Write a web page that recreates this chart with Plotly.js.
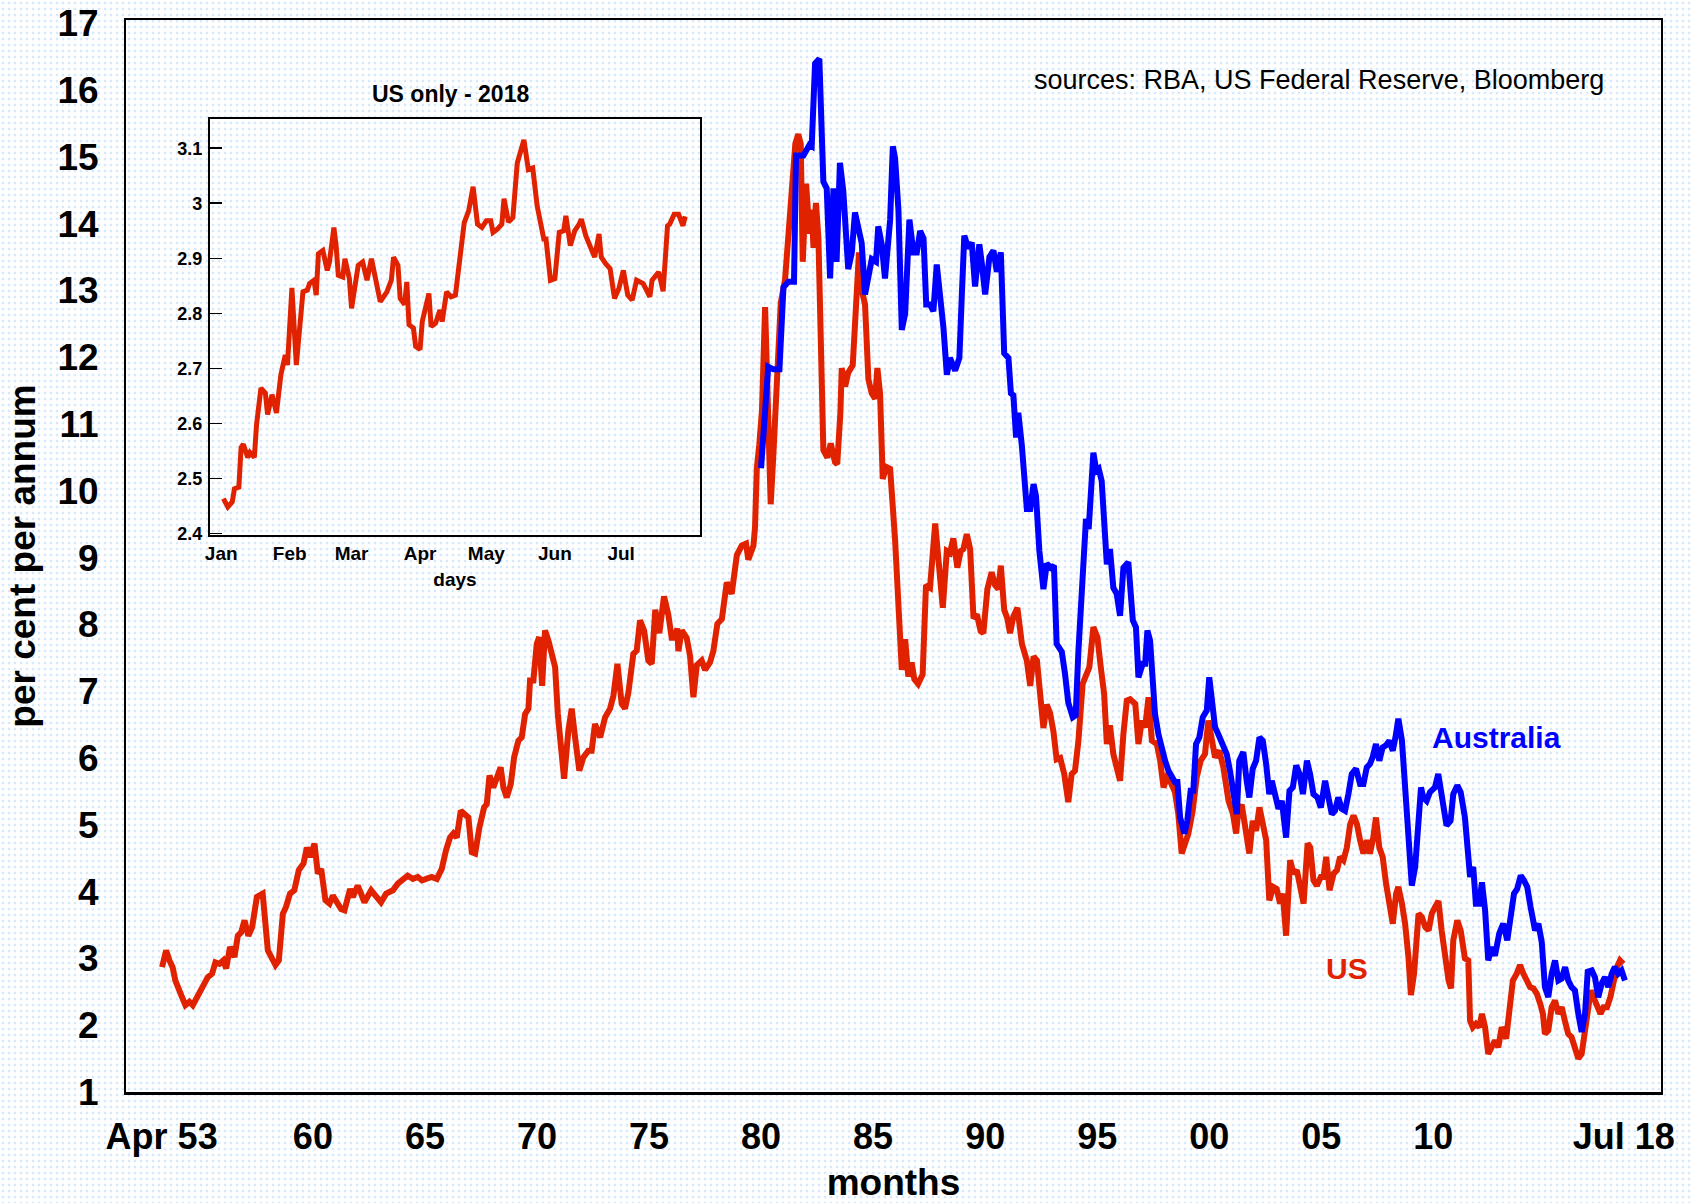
<!DOCTYPE html>
<html>
<head>
<meta charset="utf-8">
<script src="https://cdn.plot.ly/plotly-3.0.1.min.js"></script>
<style>
  html, body { margin: 0; padding: 0; }
  body {
    width: 1691px; height: 1203px; overflow: hidden;
    background-color: #ffffff;
    background-image: radial-gradient(circle, #d6eafb 1.2px, rgba(255,255,255,0) 1.7px);
    background-size: 6px 6px;
  }
  #chart { width: 1691px; height: 1203px; }
</style>
</head>
<body>
<div id="chart"></div>
<script>
// ---------- main chart: US 10-year bond yield (monthly) ----------
const usYears = [1953.27,1953.45,1953.6,1953.74,1953.86,1954.0,1954.16,1954.31,1954.49,1954.64,1954.86,1955.09,1955.31,1955.5,1955.65,1955.83,1956.0,1956.13,1956.3,1956.5,1956.65,1956.8,1956.95,1957.12,1957.29,1957.5,1957.76,1957.99,1958.13,1958.33,1958.48,1958.66,1958.8,1958.98,1959.17,1959.37,1959.58,1959.73,1959.88,1960.07,1960.22,1960.37,1960.56,1960.74,1960.89,1961.07,1961.26,1961.41,1961.51,1961.66,1961.78,1962.0,1962.15,1962.3,1962.6,1962.82,1963.04,1963.27,1963.57,1963.79,1964.01,1964.23,1964.46,1964.68,1964.87,1965.05,1965.3,1965.53,1965.75,1965.94,1966.12,1966.27,1966.42,1966.6,1966.79,1966.94,1967.09,1967.24,1967.43,1967.64,1967.76,1967.88,1968.05,1968.21,1968.38,1968.5,1968.65,1968.83,1968.98,1969.17,1969.32,1969.47,1969.62,1969.69,1969.84,1969.99,1970.1,1970.23,1970.36,1970.51,1970.66,1970.81,1970.93,1971.06,1971.21,1971.4,1971.55,1971.7,1971.89,1972.07,1972.29,1972.44,1972.59,1972.82,1973.04,1973.26,1973.41,1973.59,1973.78,1973.93,1974.08,1974.3,1974.45,1974.6,1974.78,1974.97,1975.12,1975.28,1975.46,1975.67,1975.86,1976.01,1976.16,1976.26,1976.31,1976.46,1976.68,1976.83,1976.98,1977.13,1977.35,1977.5,1977.72,1977.87,1978.05,1978.25,1978.47,1978.69,1978.92,1979.14,1979.33,1979.43,1979.66,1979.73,1979.81,1979.92,1980.04,1980.18,1980.25,1980.43,1980.55,1980.73,1980.88,1981.07,1981.3,1981.53,1981.66,1981.77,1981.86,1982.01,1982.16,1982.26,1982.34,1982.45,1982.56,1982.71,1982.78,1982.96,1983.11,1983.3,1983.4,1983.54,1983.6,1983.75,1983.89,1984.09,1984.19,1984.37,1984.49,1984.64,1984.79,1984.94,1985.09,1985.19,1985.31,1985.43,1985.58,1985.76,1985.98,1986.13,1986.28,1986.43,1986.57,1986.72,1986.84,1987.01,1987.21,1987.36,1987.54,1987.77,1987.91,1988.11,1988.29,1988.43,1988.58,1988.76,1988.91,1989.03,1989.18,1989.33,1989.48,1989.63,1989.8,1989.92,1990.1,1990.29,1990.44,1990.59,1990.7,1990.85,1990.99,1991.11,1991.26,1991.44,1991.64,1991.86,1992.01,1992.16,1992.31,1992.46,1992.6,1992.75,1992.9,1993.05,1993.19,1993.35,1993.53,1993.71,1993.86,1994.01,1994.16,1994.35,1994.53,1994.65,1994.83,1995.01,1995.16,1995.31,1995.43,1995.57,1995.72,1995.87,1996.02,1996.17,1996.32,1996.47,1996.7,1996.84,1996.99,1997.14,1997.29,1997.44,1997.66,1997.81,1997.96,1998.11,1998.25,1998.47,1998.62,1998.77,1998.92,1999.07,1999.26,1999.44,1999.62,1999.81,1999.96,2000.11,2000.26,2000.45,2000.63,2000.86,2001.06,2001.2,2001.3,2001.45,2001.6,2001.79,2001.94,2002.09,2002.24,2002.39,2002.54,2002.68,2002.86,2003.01,2003.16,2003.28,2003.43,2003.61,2003.76,2003.91,2004.03,2004.21,2004.39,2004.51,2004.65,2004.8,2004.98,2005.1,2005.22,2005.37,2005.55,2005.7,2005.84,2005.99,2006.14,2006.29,2006.44,2006.59,2006.73,2006.88,2007.03,2007.17,2007.32,2007.44,2007.59,2007.74,2007.89,2008.04,2008.19,2008.34,2008.44,2008.6,2008.74,2008.89,2009.0,2009.14,2009.34,2009.49,2009.64,2009.79,2009.93,2010.08,2010.23,2010.37,2010.53,2010.68,2010.79,2010.89,2011.07,2011.22,2011.41,2011.56,2011.64,2011.76,2011.9,2012.05,2012.17,2012.31,2012.45,2012.6,2012.75,2012.9,2013.05,2013.25,2013.4,2013.55,2013.72,2013.87,2014.02,2014.17,2014.32,2014.47,2014.62,2014.77,2014.89,2014.98,2015.13,2015.28,2015.43,2015.58,2015.73,2015.88,2016.02,2016.17,2016.32,2016.47,2016.62,2016.77,2016.92,2017.02,2017.16,2017.31,2017.46,2017.6,2017.75,2017.9,2018.04,2018.19,2018.33,2018.48];
const usYield = [2.87,3.12,2.97,2.87,2.67,2.52,2.42,2.30,2.35,2.30,2.45,2.60,2.72,2.77,2.94,2.92,2.97,2.85,3.17,3.02,3.34,3.39,3.57,3.34,3.47,3.92,3.97,3.12,3.02,2.90,2.97,3.67,3.77,3.97,4.02,4.32,4.42,4.66,4.52,4.72,4.27,4.34,3.87,3.82,3.94,3.82,3.74,3.72,3.89,4.04,3.92,4.09,3.97,3.84,4.02,3.94,3.84,3.97,4.02,4.12,4.17,4.24,4.19,4.22,4.17,4.19,4.22,4.19,4.34,4.62,4.81,4.87,4.81,5.21,5.16,5.11,4.59,4.57,4.96,5.26,5.31,5.74,5.56,5.69,5.86,5.56,5.41,5.61,6.01,6.26,6.31,6.66,6.74,7.16,7.16,7.71,7.81,7.08,7.91,7.76,7.51,7.36,6.66,6.16,5.69,6.41,6.74,6.31,5.81,6.01,6.11,6.11,6.51,6.31,6.61,6.74,6.93,7.41,6.81,6.74,6.98,7.56,7.61,8.06,7.91,7.46,7.41,8.22,7.87,8.42,8.15,7.80,7.80,7.94,7.60,7.91,7.80,7.53,6.91,7.39,7.46,7.32,7.43,7.60,8.01,8.08,8.63,8.46,9.04,9.18,9.21,8.97,9.18,9.45,10.34,10.69,11.2,12.75,11.92,9.80,10.55,11.92,12.82,13.16,14.13,15.20,15.34,15.20,13.43,14.6,13.85,14.21,13.64,14.31,13.78,12.09,10.61,10.50,10.71,10.43,10.40,11.17,11.84,11.56,11.77,11.88,12.51,13.57,13.01,12.79,11.67,11.46,11.38,11.84,11.46,10.18,10.36,10.33,9.27,8.21,7.32,7.78,7.22,7.43,7.18,7.11,7.25,8.59,8.55,9.51,9.03,8.25,9.10,9.07,9.29,8.85,9.10,9.13,9.35,9.13,8.09,8.15,7.90,7.87,8.53,8.78,8.59,8.53,8.88,8.22,8.09,7.87,8.12,8.25,7.71,7.46,7.08,7.52,7.46,6.99,6.45,6.80,6.67,6.39,5.98,6.0,5.76,5.34,5.76,5.81,6.25,7.11,7.26,7.36,7.96,7.81,7.36,6.96,6.21,6.49,6.06,5.81,5.66,6.36,6.86,6.88,6.81,6.21,6.56,6.46,6.91,6.26,6.21,5.96,5.56,5.71,5.66,5.49,5.16,4.57,4.72,4.87,5.21,5.71,5.96,6.06,6.56,6.21,6.01,6.11,5.86,5.36,5.16,4.87,5.21,5.30,4.9,4.57,5.06,4.91,5.26,5.06,4.77,3.87,4.07,4.04,3.82,3.97,3.34,4.47,4.27,4.32,4.12,3.82,4.72,4.66,4.17,4.09,4.22,4.22,4.52,4.02,4.27,4.32,4.52,4.47,4.66,5.01,5.14,5.01,4.77,4.57,4.77,4.57,4.81,5.11,4.66,4.52,4.12,3.87,3.52,3.97,4.07,3.82,3.52,3.02,2.45,2.77,3.67,3.62,3.47,3.42,3.67,3.77,3.86,3.42,2.97,2.67,2.55,3.27,3.57,3.42,3.00,2.97,2.07,1.97,2.02,1.97,2.17,1.97,1.57,1.67,1.77,1.67,1.97,1.80,2.27,2.67,2.77,2.90,2.77,2.67,2.57,2.55,2.47,2.32,2.17,1.87,1.92,2.27,2.37,2.17,2.27,2.05,1.87,1.82,1.67,1.50,1.57,1.87,2.27,2.52,2.42,2.27,2.17,2.27,2.27,2.42,2.67,2.87,2.97,2.92];

// ---------- main chart: Australia 10-year bond yield ----------
const ausYears = [1980.0,1980.32,1980.55,1980.82,1981.0,1981.22,1981.47,1981.56,1981.89,1982.16,1982.26,1982.41,1982.6,1982.78,1982.93,1983.08,1983.23,1983.37,1983.52,1983.67,1983.89,1984.05,1984.19,1984.34,1984.49,1984.64,1984.79,1984.94,1985.13,1985.23,1985.39,1985.53,1985.76,1985.88,1985.98,1986.13,1986.28,1986.43,1986.62,1986.8,1986.95,1987.1,1987.25,1987.37,1987.54,1987.69,1987.84,1987.99,1988.14,1988.29,1988.43,1988.66,1988.85,1988.96,1989.07,1989.25,1989.4,1989.55,1989.74,1989.85,1990.0,1990.19,1990.37,1990.52,1990.7,1990.85,1991.04,1991.15,1991.26,1991.38,1991.48,1991.64,1991.86,1992.01,1992.16,1992.27,1992.42,1992.6,1992.75,1992.93,1993.07,1993.19,1993.42,1993.56,1993.71,1993.91,1994.04,1994.16,1994.38,1994.5,1994.62,1994.74,1994.83,1994.96,1995.07,1995.2,1995.31,1995.43,1995.57,1995.72,1995.87,1996.02,1996.17,1996.39,1996.59,1996.73,1996.84,1997.03,1997.14,1997.24,1997.36,1997.48,1997.58,1997.73,1997.88,1998.03,1998.18,1998.33,1998.47,1998.58,1998.7,1998.89,1999.02,1999.17,1999.29,1999.41,1999.56,1999.71,1999.89,2000.0,2000.15,2000.26,2000.4,2000.6,2000.78,2000.93,2001.1,2001.23,2001.34,2001.52,2001.67,2001.79,2001.94,2002.09,2002.24,2002.39,2002.54,2002.68,2002.79,2002.94,2003.09,2003.24,2003.43,2003.58,2003.73,2003.88,2004.03,2004.18,2004.36,2004.5,2004.65,2004.83,2004.98,2005.17,2005.32,2005.47,2005.61,2005.76,2005.91,2006.06,2006.21,2006.36,2006.55,2006.73,2006.88,2007.03,2007.17,2007.29,2007.44,2007.59,2007.74,2007.89,2008.04,2008.19,2008.31,2008.44,2008.6,2008.74,2008.89,2009.04,2009.19,2009.34,2009.45,2009.55,2009.7,2009.85,2010.07,2010.22,2010.37,2010.59,2010.77,2010.89,2011.07,2011.22,2011.41,2011.56,2011.64,2011.78,2011.9,2012.05,2012.17,2012.31,2012.45,2012.6,2012.75,2012.94,2013.12,2013.3,2013.45,2013.6,2013.74,2013.9,2014.04,2014.19,2014.34,2014.54,2014.69,2014.84,2014.98,2015.13,2015.28,2015.43,2015.58,2015.73,2015.88,2016.02,2016.17,2016.32,2016.47,2016.62,2016.77,2016.89,2017.07,2017.21,2017.36,2017.51,2017.66,2017.81,2017.96,2018.1,2018.25,2018.4,2018.55];
const ausYield = [10.34,11.86,11.82,11.82,13.05,13.13,13.13,15.02,15.02,15.18,15.16,16.40,16.47,14.63,14.53,13.18,14.53,13.43,14.91,14.49,13.32,13.57,14.17,13.92,13.71,12.94,13.18,13.47,13.43,13.96,13.68,13.18,14.06,15.16,14.98,14.21,12.41,12.65,14.06,13.57,13.57,13.89,13.78,12.79,12.79,12.69,13.39,12.94,12.44,11.74,11.99,11.80,11.99,12.94,13.82,13.63,13.72,13.06,13.69,13.41,12.94,13.50,13.60,13.28,13.57,12.06,11.99,11.46,11.43,10.80,11.17,10.67,9.73,9.73,10.10,9.92,9.10,8.53,8.91,8.85,8.88,7.71,7.59,7.27,6.83,6.61,6.64,7.59,9.10,9.58,9.43,10.15,10.57,10.30,10.33,10.15,9.60,8.90,9.13,8.55,8.46,8.13,8.85,8.93,8.06,7.96,7.21,7.41,7.41,7.91,7.76,7.11,6.66,6.36,6.11,5.96,5.81,5.74,5.64,5.64,5.11,4.87,5.06,5.51,5.51,6.21,6.31,6.61,6.71,7.21,6.81,6.46,6.36,6.21,6.06,5.8,5.4,5.16,5.96,6.09,5.66,5.41,5.84,5.96,6.31,6.26,5.91,5.46,5.66,5.41,5.24,5.36,4.81,5.51,5.56,5.89,5.76,5.46,5.96,5.76,5.46,5.41,5.26,5.66,5.36,5.16,5.21,5.41,5.24,5.21,5.46,5.76,5.84,5.61,5.61,5.86,5.91,6.01,6.21,5.96,6.16,6.19,6.26,6.11,6.31,6.59,6.26,5.51,4.62,4.09,4.37,5.06,5.56,5.41,5.36,5.49,5.56,5.76,5.46,4.99,5.06,5.46,5.59,5.49,5.11,4.66,4.22,4.37,3.82,3.82,4.14,3.72,2.97,3.17,3.04,3.37,3.52,3.27,3.67,3.97,4.04,4.24,4.17,4.07,3.77,3.42,3.52,3.24,2.57,2.42,2.77,2.97,2.67,2.70,2.87,2.67,2.57,2.52,2.17,1.90,2.17,2.80,2.82,2.72,2.42,2.62,2.72,2.57,2.77,2.87,2.77,2.82,2.67];

// ---------- inset: US only - 2018 (daily) ----------
const insetDates = ['2018-01-02','2018-01-04','2018-01-06','2018-01-07','2018-01-09','2018-01-10','2018-01-11','2018-01-13','2018-01-14','2018-01-16','2018-01-17','2018-01-19','2018-01-21','2018-01-22','2018-01-24','2018-01-26','2018-01-28','2018-01-30','2018-01-31','2018-02-02','2018-02-04','2018-02-07','2018-02-09','2018-02-10','2018-02-12','2018-02-13','2018-02-14','2018-02-16','2018-02-18','2018-02-19','2018-02-21','2018-02-22','2018-02-23','2018-02-25','2018-02-26','2018-02-28','2018-03-01','2018-03-03','2018-03-04','2018-03-06','2018-03-08','2018-03-10','2018-03-12','2018-03-14','2018-03-17','2018-03-19','2018-03-20','2018-03-22','2018-03-23','2018-03-25','2018-03-26','2018-03-27','2018-03-29','2018-03-30','2018-04-01','2018-04-02','2018-04-05','2018-04-06','2018-04-08','2018-04-10','2018-04-11','2018-04-13','2018-04-15','2018-04-17','2018-04-19','2018-04-21','2018-04-23','2018-04-25','2018-04-27','2018-04-29','2018-05-01','2018-05-03','2018-05-04','2018-05-06','2018-05-08','2018-05-09','2018-05-11','2018-05-13','2018-05-15','2018-05-17','2018-05-18','2018-05-20','2018-05-22','2018-05-24','2018-05-25','2018-05-27','2018-05-28','2018-05-30','2018-06-01','2018-06-03','2018-06-05','2018-06-06','2018-06-08','2018-06-10','2018-06-12','2018-06-13','2018-06-15','2018-06-17','2018-06-19','2018-06-21','2018-06-22','2018-06-24','2018-06-26','2018-06-28','2018-06-30','2018-07-02','2018-07-04','2018-07-06','2018-07-08','2018-07-11','2018-07-14','2018-07-15','2018-07-18','2018-07-20','2018-07-22','2018-07-23','2018-07-25','2018-07-27','2018-07-29','2018-07-30'];
const insetYield = [2.463,2.448,2.457,2.481,2.484,2.556,2.562,2.538,2.547,2.538,2.598,2.664,2.655,2.616,2.652,2.619,2.688,2.724,2.706,2.846,2.706,2.839,2.842,2.854,2.86,2.833,2.908,2.914,2.878,2.893,2.956,2.923,2.869,2.866,2.899,2.863,2.809,2.869,2.887,2.893,2.86,2.899,2.86,2.821,2.839,2.86,2.902,2.887,2.827,2.816,2.857,2.779,2.773,2.74,2.734,2.785,2.836,2.776,2.782,2.806,2.785,2.839,2.83,2.833,2.899,2.965,2.986,3.03,2.962,2.956,2.968,2.968,2.947,2.953,2.962,3.008,2.966,2.974,3.073,3.103,3.115,3.061,3.064,2.995,2.977,2.935,2.935,2.86,2.863,2.947,2.95,2.977,2.923,2.95,2.962,2.971,2.941,2.923,2.902,2.944,2.902,2.89,2.881,2.827,2.845,2.878,2.833,2.824,2.86,2.854,2.83,2.86,2.875,2.84,2.959,2.962,2.98,2.98,2.959,2.976];

// ---------- tick labels ----------
const mainTickVals = [1953.25,1960,1965,1970,1975,1980,1985,1990,1995,2000,2005,2010,2018.5];
const mainTickText = ['Apr 53','60','65','70','75','80','85','90','95','00','05','10','Jul 18'];
const mainYTicks = [1,2,3,4,5,6,7,8,9,10,11,12,13,14,15,16,17];
const insetTickVals = ['2018-01-01','2018-02-01','2018-03-01','2018-04-01','2018-05-01','2018-06-01','2018-07-01'];
const insetTickText = ['Jan','Feb','Mar','Apr','May','Jun','Jul'];
const insetYTickVals = [2.4,2.5,2.6,2.7,2.8,2.9,3.0,3.1];
const insetYTickText = ['2.4','2.5','2.6','2.7','2.8','2.9','3','3.1'];

const RED = '#e02200';
const BLUE = '#0000ff';
const FONT = '"Liberation Sans", Arial, Helvetica, sans-serif';

const traces = [
  { x: usYears, y: usYield, type: 'scatter', mode: 'lines', name: 'US',
    line: { color: RED, width: 6 }, xaxis: 'x', yaxis: 'y' },
  { x: ausYears, y: ausYield, type: 'scatter', mode: 'lines', name: 'Australia',
    line: { color: BLUE, width: 6 }, xaxis: 'x', yaxis: 'y' },
  { x: insetDates, y: insetYield, type: 'scatter', mode: 'lines', name: 'US 2018',
    line: { color: RED, width: 5 }, xaxis: 'x2', yaxis: 'y2' }
];

const layout = {
  width: 1691, height: 1203,
  margin: { l: 126, r: 30, t: 20, b: 111 },
  paper_bgcolor: 'rgba(0,0,0,0)',
  plot_bgcolor: 'rgba(0,0,0,0)',
  showlegend: false,
  font: { family: FONT, color: '#000' },
  xaxis: {
    range: [1951.66, 2020.16],
    tickmode: 'array', tickvals: mainTickVals, ticktext: mainTickText,
    ticks: '', showgrid: false, zeroline: false,
    showline: true, mirror: true, linecolor: '#000', linewidth: 2.5,
    tickfont: { size: 36, weight: 'bold', family: FONT },
    ticklabelstandoff: 11,
    title: { text: 'months', font: { size: 37, weight: 'bold', family: FONT }, standoff: 18 }
  },
  yaxis: {
    range: [1, 17.05],
    tickmode: 'array', tickvals: mainYTicks,
    ticks: '', showgrid: false, zeroline: false,
    showline: true, mirror: true, linecolor: '#000', linewidth: 2,
    tickfont: { size: 37, weight: 'bold', family: FONT },
    ticklabelstandoff: 18,
    title: { text: 'per cent per annum', font: { size: 37, weight: 'bold', family: FONT }, standoff: 10 }
  },
  xaxis2: {
    type: 'date', anchor: 'y2',
    domain: [0.0547, 0.3739],
    range: ['2017-12-26 22:00', '2018-08-05 16:00'],
    tickmode: 'array', tickvals: insetTickVals, ticktext: insetTickText,
    ticks: '', showgrid: false, zeroline: false,
    showline: true, mirror: true, linecolor: '#000', linewidth: 2,
    tickfont: { size: 19, weight: 'bold', family: FONT },
    ticklabelstandoff: 0,
    title: { text: 'days', font: { size: 19, weight: 'bold', family: FONT }, standoff: 10 }
  },
  yaxis2: {
    anchor: 'x2',
    domain: [0.5196, 0.9076],
    range: [2.397, 3.153],
    tickmode: 'array', tickvals: insetYTickVals, ticktext: insetYTickText,
    ticks: 'inside', ticklen: 12, tickwidth: 1.5, tickcolor: '#000',
    showgrid: false, zeroline: false,
    showline: true, mirror: true, linecolor: '#000', linewidth: 2,
    tickfont: { size: 18, weight: 'bold', family: FONT },
    ticklabelstandoff: 2
  },
  annotations: [
    { text: 'sources: RBA, US Federal Reserve, Bloomberg', xref: 'paper', yref: 'paper',
      x: 0.7775, y: 0.9437, xanchor: 'center', yanchor: 'middle', showarrow: false,
      font: { size: 27, family: FONT, color: '#000' } },
    { text: 'Australia', xref: 'paper', yref: 'paper',
      x: 0.8928, y: 0.3305, xanchor: 'center', yanchor: 'middle', showarrow: false,
      font: { size: 30, weight: 'bold', family: FONT, color: BLUE } },
    { text: 'US', xref: 'paper', yref: 'paper',
      x: 0.7954, y: 0.1152, xanchor: 'center', yanchor: 'middle', showarrow: false,
      font: { size: 30, weight: 'bold', family: FONT, color: RED } },
    { text: 'US only - 2018', xref: 'paper', yref: 'paper',
      x: 0.2111, y: 0.931, xanchor: 'center', yanchor: 'middle', showarrow: false,
      font: { size: 23, weight: 'bold', family: FONT, color: '#000' } }
  ]
};

Plotly.newPlot('chart', traces, layout, { staticPlot: true, displayModeBar: false });
</script>
</body>
</html>
